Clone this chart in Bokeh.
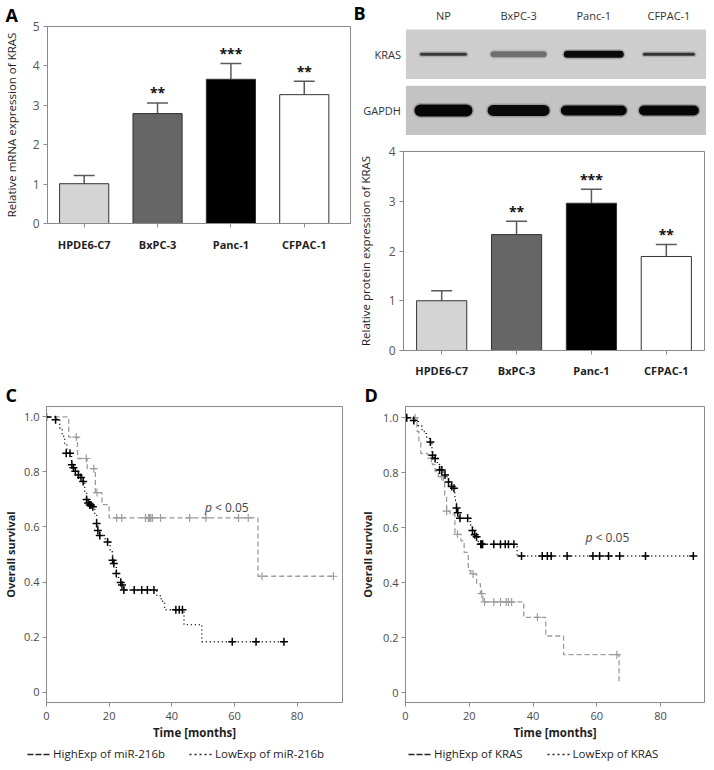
import math
from bokeh.plotting import figure
from bokeh.models import (Range1d, FixedTicker, Whisker, TeeHead,
                          ColumnDataSource, Label, Legend, LegendItem)
from bokeh.layouts import row, column
from bokeh.core.properties import value
from bokeh.embed import file_html
from bokeh.resources import INLINE

# ---------------- data ----------------
cell_lines = ["HPDE6-C7", "BxPC-3", "Panc-1", "CFPAC-1"]
mrna_mean = [1.01, 2.79, 3.66, 3.27]
mrna_sd = [0.21, 0.27, 0.40, 0.34]
mrna_sig = ["", "**", "***", "**"]
mrna_ticks = [0, 1, 2, 3, 4, 5]

protein_mean = [1.00, 2.33, 2.96, 1.89]
protein_sd = [0.20, 0.27, 0.28, 0.24]
protein_sig = ["", "**", "***", "**"]
protein_ticks = [0, 1, 2, 3, 4]

blot_lanes = ["NP", "BxPC-3", "Panc-1", "CFPAC-1"]
blot_rows = ["KRAS", "GAPDH"]
kras_band_darkness = [0.72, 0.45, 0.95, 0.75]
kras_band_thickness = [3, 6, 7, 3]
kras_band_length = [47, 56, 60, 52]
gapdh_band_darkness = [0.97, 0.95, 0.97, 0.97]
gapdh_band_thickness = [12, 11, 10, 10]
gapdh_band_length = [58, 62, 66, 60]

km_xticks = [0, 20, 40, 60, 80]
km_yticks = [0, 0.2, 0.4, 0.6, 0.8, 1.0]

# Panel C: miR-216b
c_high_t = [0, 7.1, 9.9, 13.0, 15.6, 17.7, 20.0, 67.5, 91.6]
c_high_s = [1.0, 0.927, 0.849, 0.812, 0.725, 0.681, 0.633, 0.421, 0.421]
c_high_ct = [9.5, 12.7, 15.1, 16.1, 22.4, 24.0, 31.6, 32.5, 32.9, 33.3, 33.8,
             36.4, 45.7, 50.9, 61.3, 64.4, 68.8, 91.6]
c_high_cs = [0.927, 0.849, 0.812, 0.725, 0.633, 0.633, 0.633, 0.633, 0.633,
             0.633, 0.633, 0.633, 0.633, 0.633, 0.633, 0.633, 0.421, 0.421]
c_low_t = [0, 3.3, 4.2, 5.0, 5.8, 6.5, 8.0, 8.6, 9.2, 10.2, 11.0, 11.7, 12.2,
           12.8, 13.3, 13.8, 14.8, 15.4, 16.0, 16.4, 17.0, 18.5, 19.5, 20.3,
           21.1, 21.5, 22.3, 23.0, 23.7, 24.1, 24.7, 35.2, 36.6, 37.7, 43.9,
           49.6, 76.0]
c_low_s = [1.0, 0.99, 0.96, 0.93, 0.90, 0.868, 0.826, 0.815, 0.803, 0.789,
           0.78, 0.765, 0.73, 0.70, 0.687, 0.68, 0.674, 0.645, 0.613, 0.587,
           0.569, 0.557, 0.545, 0.51, 0.479, 0.467, 0.431, 0.41, 0.398, 0.389,
           0.371, 0.35, 0.33, 0.299, 0.245, 0.183, 0.183]
c_low_ct = [0, 2.9, 6.3, 7.5, 8.1, 8.6, 9.2, 10.2, 11.0, 11.7, 12.8, 13.3,
            13.8, 14.2, 14.8, 16.0, 16.4, 17.0, 19.5, 21.1, 21.5, 22.3, 23.7,
            24.1, 24.7, 28.0, 30.4, 32.2, 34.3, 41.3, 42.4, 43.4, 59.3, 66.9,
            75.8]
c_low_cs = [1.0, 0.99, 0.868, 0.868, 0.826, 0.815, 0.803, 0.789, 0.78, 0.765,
            0.70, 0.687, 0.68, 0.68, 0.674, 0.613, 0.587, 0.569, 0.545, 0.479,
            0.467, 0.431, 0.398, 0.389, 0.371, 0.371, 0.371, 0.371, 0.371,
            0.299, 0.299, 0.299, 0.183, 0.183, 0.183]

# Panel D: KRAS
d_high_t = [0, 3.6, 4.2, 4.8, 7.0, 7.8, 8.4, 9.3, 10.3, 11.9, 12.3, 12.9,
            14.0, 15.5, 17.4, 18.4, 19.7, 20.5, 22.3, 23.5, 24.3, 37.1, 44.0,
            49.6, 67.0]
d_high_s = [1.0, 0.95, 0.91, 0.87, 0.864, 0.853, 0.83, 0.804, 0.786, 0.768,
            0.71, 0.66, 0.648, 0.576, 0.552, 0.51, 0.444, 0.432, 0.396, 0.36,
            0.33, 0.274, 0.206, 0.138, 0.03]
d_high_ct = [3.0, 8.1, 11.4, 12.9, 16.3, 21.2, 23.9, 24.8, 27.7, 29.8, 31.6,
             32.3, 33.3, 41.4, 66.3]
d_high_cs = [1.0, 0.853, 0.786, 0.66, 0.576, 0.432, 0.36, 0.33, 0.33, 0.33,
             0.33, 0.33, 0.33, 0.274, 0.138]
d_low_t = [0, 2.4, 4.0, 5.2, 6.5, 7.5, 8.3, 9.0, 10.0, 10.7, 12.0, 13.0, 13.5,
           14.3, 15.0, 15.5, 16.0, 16.4, 16.8, 20.3, 21.0, 21.5, 22.1, 22.8,
           23.3, 35.0, 90.3]
d_low_s = [1.0, 0.99, 0.97, 0.95, 0.93, 0.912, 0.864, 0.852, 0.83, 0.81,
           0.792, 0.78, 0.766, 0.75, 0.744, 0.70, 0.672, 0.654, 0.634, 0.61,
           0.59, 0.574, 0.567, 0.55, 0.54, 0.497, 0.497]
d_low_ct = [0.4, 2.6, 7.8, 8.5, 9.3, 10.7, 11.4, 12.4, 13.5, 14.5, 15.2, 16.0,
            16.4, 17.1, 19.5, 21.0, 21.7, 22.3, 23.6, 23.9, 24.2, 27.7, 29.8,
            31.3, 32.3, 34.0, 36.4, 42.9, 44.5, 45.7, 50.7, 58.8, 60.9, 63.7,
            67.2, 75.3, 90.3]
d_low_cs = [1.0, 0.99, 0.912, 0.864, 0.852, 0.81, 0.81, 0.792, 0.766, 0.75,
            0.744, 0.672, 0.654, 0.634, 0.634, 0.59, 0.574, 0.567, 0.54, 0.54,
            0.54, 0.54, 0.54, 0.54, 0.54, 0.54, 0.497, 0.497, 0.497, 0.497,
            0.497, 0.497, 0.497, 0.497, 0.497, 0.497, 0.497]

# ---------------- style ----------------
S = 0.988
FONT = "Open Sans"
AXC = "#8a8a8a"
TXT = "#1e1e1e"
TICKC = "#4a4a4a"
ERRC = "#5a5a5a"
GRAY = "#9c9c9c"
bar_colors = ["#d4d4d4", "#666666", "#000000", "#ffffff"]


def s(v):
    return int(round(v * S))


def base_fig(W, H, L, R, T, B, **kw):
    p = figure(width=s(W), height=s(H), output_backend="svg", toolbar_location=None,
               min_border_left=s(L), min_border_right=s(R), min_border_top=s(T),
               min_border_bottom=s(B), **kw)
    p.grid.visible = False
    p.outline_line_color = AXC
    p.outline_line_width = 1
    p.background_fill_color = "white"
    p.border_fill_color = "white"
    for ax in p.axis:
        ax.axis_line_color = AXC
        ax.major_tick_line_color = AXC
        ax.minor_tick_line_color = None
        ax.major_tick_in = 0
        ax.major_tick_out = 4
        ax.major_label_text_font = FONT
        ax.axis_label_text_font = FONT
        ax.axis_label_text_font_style = "normal"
        ax.axis_label_text_color = TXT
    return p


def set_letter(p, letter, offset):
    p.title.text = letter
    p.title.align = "left"
    p.title.offset = offset
    p.title.standoff = 0
    p.title.text_font = FONT
    p.title.text_font_size = "18px"
    p.title.text_font_style = "bold"
    p.title.text_color = "black"


def bar_panel(means, sds, sigs, yticks, ytitle, W, H, L, R, T, B, xr,
              xstandoff, title_standoff):
    xs = list(range(1, len(cell_lines) + 1))
    upper = [m + e for m, e in zip(means, sds)]
    p = base_fig(W, H, L, R, T, B, x_range=Range1d(*xr),
                 y_range=Range1d(yticks[0], yticks[-1]))
    src = ColumnDataSource(dict(x=xs, mean=means, upper=upper, sig=sigs,
                                color=bar_colors))
    p.vbar(x="x", top="mean", bottom=0, width=0.67, fill_color="color",
           line_color="#333333", line_width=1, source=src)
    p.add_layout(Whisker(source=src, base="x", lower="mean", upper="upper",
                         dimension="height", line_color=ERRC, line_width=1.5,
                         upper_head=TeeHead(size=21, line_color=ERRC, line_width=1.5),
                         lower_head=None))
    p.text(x="x", y="upper", text="sig", source=src, text_align="center",
           text_baseline="alphabetic", y_offset=-10, text_font=value(FONT),
           text_font_style="bold", text_font_size="14px", text_color="#111111")
    p.xaxis.ticker = FixedTicker(ticks=xs)
    p.xaxis.major_label_overrides = {x: c for x, c in zip(xs, cell_lines)}
    p.xaxis.major_label_text_font_style = "bold"
    p.xaxis.major_label_text_font_size = "11px"
    p.xaxis.major_label_text_color = TXT
    p.xaxis.major_label_standoff = xstandoff
    p.yaxis.ticker = FixedTicker(ticks=yticks)
    p.yaxis.major_label_text_font_size = "12px"
    p.yaxis.major_label_text_color = "#555555"
    p.yaxis.major_label_standoff = 4
    p.yaxis.axis_label = ytitle
    p.yaxis.axis_label_text_font_size = "11.5px"
    p.yaxis.axis_label_standoff = title_standoff
    return p


def km_panel(hi_t, hi_s, hi_ct, hi_cs, lo_t, lo_s, lo_ct, lo_cs,
             W, H, L, R, T, B, xr, yr, pxy, title_standoff):
    p = base_fig(W, H, L, R, T, B, x_range=Range1d(*xr), y_range=Range1d(*yr))
    p.step(hi_t, hi_s, mode="after", line_color=GRAY, line_dash="5 3", line_width=1.3)
    p.scatter(hi_ct, hi_cs, marker="cross", size=8, line_color=GRAY, line_width=1.2)
    p.step(lo_t, lo_s, mode="after", line_color="black", line_dash="1 3", line_width=1.4)
    p.scatter(lo_ct, lo_cs, marker="cross", size=8, line_color="black", line_width=1.5)
    p.xaxis.ticker = FixedTicker(ticks=km_xticks)
    p.yaxis.ticker = FixedTicker(ticks=km_yticks)
    p.yaxis.major_label_overrides = {0: "0", 1: "1.0"}
    for ax in p.axis:
        ax.major_label_text_font_size = "11px"
        ax.major_label_text_color = TICKC
    p.yaxis.major_label_standoff = 3
    p.xaxis.major_label_standoff = 5
    p.xaxis.axis_label = "Time [months]"
    p.xaxis.axis_label_text_font_size = "11.5px"
    p.xaxis.axis_label_text_font_style = "bold"
    p.xaxis.axis_label_standoff = 2
    p.yaxis.axis_label = "Overall survival"
    p.yaxis.axis_label_text_font_size = "11px"
    p.yaxis.axis_label_text_font_style = "bold"
    p.yaxis.axis_label_standoff = title_standoff
    p.add_layout(Label(x=pxy[0], y=pxy[1], text="p", text_font=FONT,
                       text_font_style="italic", text_font_size="12px",
                       text_color="#444444", text_baseline="middle"))
    p.add_layout(Label(x=pxy[0], y=pxy[1], x_offset=10, text="< 0.05", text_font=FONT,
                       text_font_size="12px", text_color="#444444",
                       text_baseline="middle"))
    return p


def legend_strip(names, W, H, x0):
    # separate strip holding the legend; the key renderers lie outside the visible range
    f = figure(width=s(W), height=s(H), output_backend="svg", toolbar_location=None,
               x_axis_type=None, y_axis_type=None, min_border=0,
               x_range=Range1d(0, 1), y_range=Range1d(0, 1))
    f.grid.visible = False
    f.outline_line_color = None
    f.background_fill_color = "white"
    f.border_fill_color = "white"
    r1 = f.line(x=[5, 6], y=[5, 5], line_color="#222222", line_dash="6 2", line_width=1.6)
    r2 = f.line(x=[5, 6], y=[5, 5], line_color="#222222", line_dash="2 3", line_width=1.4)
    leg = Legend(items=[LegendItem(label=names[0], renderers=[r1]),
                        LegendItem(label=names[1], renderers=[r2])],
                 orientation="horizontal", location=(x0, 0),
                 label_text_font=FONT, label_text_font_size="11.5px",
                 label_text_color=TXT, glyph_width=23, glyph_height=12,
                 label_height=12, label_standoff=3, spacing=24, padding=0,
                 margin=0, border_line_alpha=0, background_fill_alpha=0)
    f.add_layout(leg)
    return f


# ---------------- panel A ----------------
A = dict(W=355, H=385, L=43, R=1, T=24, B=159)
pA = bar_panel(mrna_mean, mrna_sd, mrna_sig, mrna_ticks,
               "Relative mRNA expression of KRAS", xr=(0.5, 4.63),
               xstandoff=9, title_standoff=11, **A)
set_letter(pA, "A", -s(43))

# ---------------- panel B: blot (drawn in pixel-like units of the image) ----------------
BLOT_W, BLOT_H = 359, 145
LANE_PX, BLOT_LEFT = 76, 55
x_lo = -BLOT_LEFT / LANE_PX
blot = figure(width=s(BLOT_W), height=s(BLOT_H), output_backend="svg",
              toolbar_location=None, x_axis_type=None, y_axis_type=None,
              x_range=Range1d(x_lo, len(blot_lanes)),
              y_range=Range1d(BLOT_H, 0), min_border=0)
blot.grid.visible = False
blot.outline_line_color = None
blot.background_fill_color = "white"
blot.border_fill_color = "white"
px_per_lane = s(BLOT_W) / (len(blot_lanes) - x_lo)

lane_x = [i + 0.5 for i in range(len(blot_lanes))]
row_y = [54.5, 111.5]
blot.hbar(y=row_y, left=0, right=len(blot_lanes), height=50,
          fill_color=["#cdcdcd", "#c3c3c3"], line_color=None)


def band_color(d):
    g = int(round(200 * (1 - d)))
    return "#%02x%02x%02x" % (g, g, g)


for ry, dark, thick, length in [(row_y[0], kras_band_darkness, kras_band_thickness, kras_band_length),
                                (row_y[1], gapdh_band_darkness, gapdh_band_thickness, gapdh_band_length)]:
    half = [(l - t) / 2 / px_per_lane for l, t in zip(length, thick)]
    src = ColumnDataSource(dict(x0=[x - h for x, h in zip(lane_x, half)],
                                x1=[x + h for x, h in zip(lane_x, half)],
                                y=[ry] * len(lane_x), t=thick,
                                t2=[t + 3 for t in thick],
                                c=[band_color(d) for d in dark]))
    blot.segment(x0="x0", y0="y", x1="x1", y1="y", line_width="t2", line_color="c",
                 line_alpha=0.2, line_cap="round", source=src)
    blot.segment(x0="x0", y0="y", x1="x1", y1="y", line_width="t", line_color="c",
                 line_cap="round", source=src)

blot.text(x=lane_x, y=[15] * len(lane_x), text=blot_lanes, text_align="center",
          text_baseline="middle", text_font=value(FONT), text_font_size="11px",
          text_color="#333333")
blot.text(x=[-5 / LANE_PX] * len(blot_rows), y=row_y, text=blot_rows,
          text_align="right", text_baseline="middle", text_font=value(FONT),
          text_font_size="11px", text_color="#333333")
blot.text(x=[-53 / LANE_PX], y=[0], text=["B"], text_align="left",
          text_baseline="top", text_font=value(FONT), text_font_size="18px",
          text_font_style="bold", text_color="black")

# ---------------- panel B: bars ----------------
BB = dict(W=359, H=240, L=53, R=2, T=8, B=28)
pB = bar_panel(protein_mean, protein_sd, protein_sig, protein_ticks,
               "Relative protein expression of KRAS", xr=(0.49, 4.51),
               xstandoff=8, title_standoff=13, **BB)

# ---------------- panel C ----------------
C = dict(W=355, H=367, L=42, R=9, T=26, B=42)
pC = km_panel(c_high_t, c_high_s, c_high_ct, c_high_cs, c_low_t, c_low_s,
              c_low_ct, c_low_cs, xr=(0, 94.5), yr=(-0.038, 1.038),
              pxy=(50.6, 0.672), title_standoff=3, **C)
set_letter(pC, "C", -s(41))
legC = legend_strip(["HighExp of miR-216b", "LowExp of miR-216b"], 355, 18, s(27))

# ---------------- panel D ----------------
D = dict(W=359, H=367, L=55, R=2, T=26, B=42)
pD = km_panel(d_high_t, d_high_s, d_high_ct, d_high_cs, d_low_t, d_low_s,
              d_low_ct, d_low_cs, xr=(0, 93.8), yr=(-0.036, 1.041),
              pxy=(56.5, 0.566), title_standoff=5, **D)
set_letter(pD, "D", -s(42))
legD = legend_strip(["HighExp of KRAS", "LowExp of KRAS"], 359, 18, s(58))

layout = column(row(pA, column(row(blot), pB)),
                row(column(pC, row(legC)), column(pD, row(legD))))
open("out.html", "w").write(file_html(layout, INLINE))
